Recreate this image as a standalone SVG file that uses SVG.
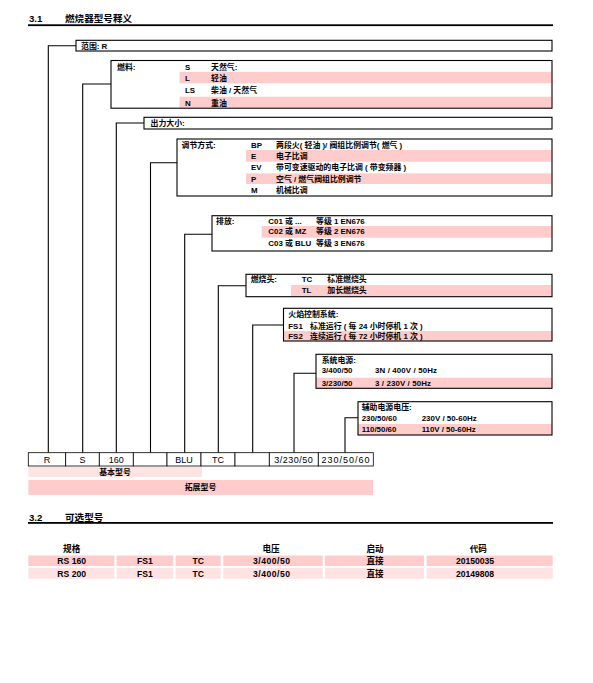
<svg xmlns="http://www.w3.org/2000/svg" width="593" height="683" viewBox="0 0 593 683">
<style>
text{font-family:"Liberation Sans","Noto Sans CJK SC",sans-serif;fill:#000}
.t{font-size:7.9px;font-weight:bold}
.h{font-size:9.6px;font-weight:bold}
.tb{font-size:8.6px;font-weight:bold}
.r{font-size:9px}
.c{text-anchor:middle}
.box{fill:none;stroke:#000;stroke-width:1.1}
.pk{fill:#ffcccc}
.pl{fill:#ffe3e3}
.ln{fill:none;stroke:#000;stroke-width:1.1}
.cell{fill:#fff;stroke:#000;stroke-width:0.8}
</style>
<rect width="593" height="683" fill="#fff"/>
<g id="title31">
<text class="h" x="29" y="22">3.1</text>
<text class="h" x="65" y="22">燃烧器型号释义</text>
<rect x="28" y="24.3" width="525" height="1.8" fill="#000"/>
</g>
<g id="connectors">
<polyline class="ln" points="48.3,452.7 48.3,45.7 76,45.7"/>
<polyline class="ln" points="82.7,452.7 82.7,84 111,84"/>
<polyline class="ln" points="116.3,452.7 116.3,123 144,123"/>
<polyline class="ln" points="150.5,452.7 150.5,162.7 177,162.7"/>
<polyline class="ln" points="184.7,452.7 184.7,234.3 212,234.3"/>
<polyline class="ln" points="218.3,452.7 218.3,285.7 246,285.7"/>
<polyline class="ln" points="252.7,452.7 252.7,325 283.5,325"/>
<polyline class="ln" points="294,452.7 294,373.3 316,373.3"/>
<polyline class="ln" points="345,452.7 345,417.7 358,417.7"/>
</g>
<g id="box-range">
<rect class="box" x="76" y="40.3" width="476" height="10.7"/>
<text class="t" x="81" y="48.6">范围: R</text>
</g>
<g id="box-fuel">
<rect class="pk" x="179.5" y="71.8" width="372" height="11.5"/>
<rect class="pk" x="179.5" y="96.7" width="372" height="11"/>
<text class="t" x="117" y="69.5">燃料:</text>
<text class="t" x="185" y="69.5">S</text><text class="t" x="211" y="69.5">天然气:</text>
<text class="t" x="185" y="81.2">L</text><text class="t" x="211" y="81.2">轻油</text>
<text class="t" x="185" y="93">LS</text><text class="t" x="211" y="93">柴油 / 天然气</text>
<text class="t" x="185" y="105.7">N</text><text class="t" x="211" y="105.7">重油</text>
<rect class="box" x="111" y="60.5" width="441" height="47.7"/>
</g>
<g id="box-output">
<rect class="box" x="144" y="117.3" width="408" height="11.7"/>
<text class="t" x="150.5" y="126.2">出力大小:</text>
</g>
<g id="box-regulation">
<rect class="pk" x="246" y="150" width="305.5" height="11.7"/>
<rect class="pk" x="246" y="173.3" width="305.5" height="10.7"/>
<text class="t" x="181.5" y="147.8">调节方式:</text>
<text class="t" x="251" y="147.8">BP</text><text class="t" x="276" y="147.8">两段火( 轻油 )/ 阀组比例调节( 燃气 )</text>
<text class="t" x="251" y="158.8">E</text><text class="t" x="276" y="158.8">电子比调</text>
<text class="t" x="251" y="170.2">EV</text><text class="t" x="276" y="170.2">带可变速驱动的电子比调 ( 带变频器 )</text>
<text class="t" x="251" y="181.7">P</text><text class="t" x="276" y="181.7">空气 / 燃气阀组比例调节</text>
<text class="t" x="251" y="192.7">M</text><text class="t" x="276" y="192.7">机械比调</text>
<rect class="box" x="177" y="139" width="375" height="57"/>
</g>
<g id="box-emission">
<rect class="pk" x="261.7" y="226" width="289.8" height="11.7"/>
<text class="t" x="216" y="223.5">排放:</text>
<text class="t" x="268.3" y="223.5">C01 或 ...</text><text class="t" x="316" y="223.5">等级 1 EN676</text>
<text class="t" x="268.3" y="234.2">C02 或 MZ</text><text class="t" x="316" y="234.2">等级 2 EN676</text>
<text class="t" x="268.3" y="245.5">C03 或 BLU</text><text class="t" x="316" y="245.5">等级 3 EN676</text>
<rect class="box" x="212" y="215.7" width="340" height="35.3"/>
</g>
<g id="box-head">
<rect class="pk" x="291" y="285" width="260.5" height="11.7"/>
<text class="t" x="250.7" y="282.2">燃烧头:</text>
<text class="t" x="301.7" y="282.2">TC</text><text class="t" x="327.3" y="282.2">标准燃烧头</text>
<text class="t" x="301.7" y="292.9">TL</text><text class="t" x="327.3" y="292.9">加长燃烧头</text>
<rect class="box" x="246" y="274.3" width="306" height="22.4"/>
</g>
<g id="box-flame">
<rect class="pk" x="283.5" y="331" width="268.5" height="10"/>
<text class="t" x="288.3" y="317.2">火焰控制系统:</text>
<text class="t" x="288.3" y="328.5">FS1</text><text class="t" x="310" y="328.5">标准运行 ( 每 24 小时停机 1 次 )</text>
<text class="t" x="288.3" y="338.9">FS2</text><text class="t" x="310" y="338.9">连续运行 ( 每 72 小时停机 1 次 )</text>
<rect class="box" x="283.5" y="308.3" width="268.5" height="32.7"/>
</g>
<g id="box-power">
<rect class="pk" x="316" y="377.7" width="236" height="10.6"/>
<text class="t" x="321.7" y="362.9">系统电源:</text>
<text class="t" x="321.7" y="372.9">3/400/50</text><text class="t" x="375" y="372.9" textLength="62">3N / 400V / 50Hz</text>
<text class="t" x="321.7" y="385.6">3/230/50</text><text class="t" x="375" y="385.6" textLength="56">3 / 230V / 50Hz</text>
<rect class="box" x="316" y="354.3" width="236" height="34"/>
</g>
<g id="box-aux">
<rect class="pk" x="358" y="424" width="194" height="11"/>
<text class="t" x="361.7" y="410.2">辅助电源电压:</text>
<text class="t" x="361.7" y="420.6">230/50/60</text><text class="t" x="421.7" y="420.6" textLength="55">230V / 50-60Hz</text>
<text class="t" x="361.7" y="431.9">110/50/60</text><text class="t" x="421.7" y="431.9" textLength="54">110V / 50-60Hz</text>
<rect class="box" x="358" y="401.7" width="194" height="33.3"/>
</g>
<g id="code-row">
<rect class="cell" x="28.3" y="452.7" width="37.4" height="13.3"/>
<rect class="cell" x="65.7" y="452.7" width="33.6" height="13.3"/>
<rect class="cell" x="99.3" y="452.7" width="34" height="13.3"/>
<rect class="cell" x="133.3" y="452.7" width="33.7" height="13.3"/>
<rect class="cell" x="167" y="452.7" width="34" height="13.3"/>
<rect class="cell" x="201" y="452.7" width="34" height="13.3"/>
<rect class="cell" x="235" y="452.7" width="34.3" height="13.3"/>
<rect class="cell" x="269.3" y="452.7" width="49" height="13.3"/>
<rect class="cell" x="318.3" y="452.7" width="55" height="13.3"/>
<text class="r c" x="47" y="462.7">R</text>
<text class="r c" x="82.5" y="462.7">S</text>
<text class="r c" x="116.3" y="462.7">160</text>
<text class="r c" x="184" y="462.7">BLU</text>
<text class="r c" x="218" y="462.7">TC</text>
<text class="r" x="274.3" y="462.7" textLength="38.5">3/230/50</text>
<text class="r" x="321.5" y="462.7" textLength="48">230/50/60</text>
</g>
<g id="band-basic">
<rect class="pl" x="28.3" y="467" width="173.7" height="10"/>
<text class="t c" x="115" y="474.9">基本型号</text>
</g>
<g id="band-extended">
<rect class="pk" x="28.3" y="480" width="344.7" height="15"/>
<text class="t c" x="200.5" y="490.4">拓展型号</text>
</g>
<g id="title32">
<text class="h" x="29" y="521">3.2</text>
<text class="h" x="65" y="521">可选型号</text>
<rect x="28" y="522" width="525" height="1.8" fill="#000"/>
</g>
<g id="table">
<text class="tb c" x="71.7" y="551.5">规格</text>
<text class="tb c" x="271" y="551.5">电压</text>
<text class="tb c" x="375" y="551.5">启动</text>
<text class="tb c" x="478.3" y="551.5">代码</text>
<rect class="pk" x="28.3" y="555.5" width="86" height="10.5"/>
<rect class="pk" x="116.7" y="555.5" width="56.6" height="10.5"/>
<rect class="pk" x="175.7" y="555.5" width="45" height="10.5"/>
<rect class="pk" x="223.3" y="555.5" width="99.4" height="10.5"/>
<rect class="pk" x="325" y="555.5" width="99" height="10.5"/>
<rect class="pk" x="426.7" y="555.5" width="126" height="10.5"/>
<rect class="pl" x="28.3" y="567.8" width="86" height="11"/>
<rect class="pl" x="116.7" y="567.8" width="56.6" height="11"/>
<rect class="pl" x="175.7" y="567.8" width="45" height="11"/>
<rect class="pl" x="223.3" y="567.8" width="99.4" height="11"/>
<rect class="pl" x="325" y="567.8" width="99" height="11"/>
<rect class="pl" x="426.7" y="567.8" width="126" height="11"/>
<text class="tb c" x="71.7" y="564">RS 160</text>
<text class="tb c" x="145" y="564">FS1</text>
<text class="tb c" x="198.3" y="564">TC</text>
<text class="tb" x="253" y="564" textLength="37">3/400/50</text>
<text class="tb c" x="375" y="564">直接</text>
<text class="tb c" x="475" y="564">20150035</text>
<text class="tb c" x="71.7" y="576.5">RS 200</text>
<text class="tb c" x="145" y="576.5">FS1</text>
<text class="tb c" x="198.3" y="576.5">TC</text>
<text class="tb" x="253" y="576.5" textLength="37">3/400/50</text>
<text class="tb c" x="375" y="576.5">直接</text>
<text class="tb c" x="475" y="576.5">20149808</text>
</g>
</svg>
